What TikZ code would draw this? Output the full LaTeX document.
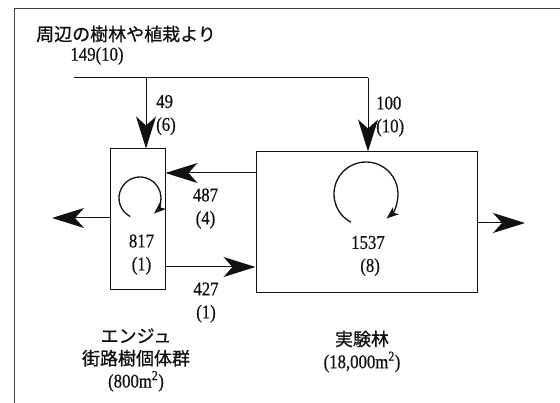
\documentclass[tikz,border=0pt]{standalone}
\usepackage{fontspec}
\setmainfont{Liberation Serif}[FakeStretch=0.86, FakeBold=0.6]
\newfontfamily\jp{Noto Sans CJK JP}[FakeBold=0.8]
\usetikzlibrary{arrows.meta, positioning, calc}
\definecolor{ink}{HTML}{111111}
\tikzset{
  pool/.style={rectangle, draw=ink, line width=1pt, inner sep=0pt},
  num/.style={font=\fontsize{19.5}{23}\selectfont, text=ink, align=center, inner sep=0pt},
  numl/.style={num, anchor=west, align=left},
  jlabel/.style={font=\jp\fontsize{18}{22.5}\selectfont, text=ink, align=center, inner sep=0pt},
  flow/.style={-{Stealth[length=32pt, width=20pt, inset=9pt]}, line width=1pt, draw=ink},
  cycle/.style={-{Stealth[length=12pt, width=9pt, inset=3pt]}, line width=1.3pt, draw=ink},
  frame/.style={line width=1pt, draw=ink!80},
}
\def\srcy{-78}

\begin{document}
\begin{tikzpicture}[x=1pt, y=1pt]
\useasboundingbox (0,0) rectangle (560,-403);

% Frame (cut at right and bottom)
\draw[frame] (14,-403) -- (14,-9) -- (560,-9);

% Compartments
\node[pool, minimum width=55pt, minimum height=141pt] (street) at (137.5,-219.5) {};
\node[pool, minimum width=221pt, minimum height=141pt] (forest) at (366.5,-222.5) {};

% Source from surrounding woods
\node[jlabel, anchor=west] (source) at (36,-34) {周辺の樹林や植栽より};
\node[num] (srcval) at (97,-56) {149(10)};
\coordinate (srcL) at (74,\srcy);
\coordinate (drop) at (146,\srcy);
\coordinate (srcR) at (368,\srcy);
\draw[line width=1pt, draw=ink] (srcL) -- (srcR);
\draw[flow] (drop) -- (drop |- street.north);
\draw[flow] (srcR) -- (srcR |- forest.north);
\node[numl] (in49) at (156,-115) {49\\(6)};
\node[numl] (in100) at (376,-116.5) {100\\(10)};

% Exchange between compartments
\coordinate (o487) at ([yshift=49.5pt]forest.west);
\coordinate (o427) at ([yshift=-47.5pt]street.east);
\draw[flow] (o487) -- (o487 -| street.east);
\draw[flow] (o427) -- (o427 -| forest.west);
\node[num] (v487) at (205.5,-208.5) {487\\(4)};
\node[num] (v427) at (206,-302.5) {427\\(1)};

% Outflows
\coordinate (outL) at (52,-218);
\coordinate (outR) at (525,-223);
\draw[flow] (outL -| street.west) -- (outL);
\draw[flow] (outR -| forest.east) -- (outR);

% Internal cycling
\coordinate (cL) at (140,-198);
\coordinate (cR) at (366,-194);
\draw[cycle] ($(cL)+(242:21)$) arc[start angle=242, end angle=-48, radius=21];
\draw[cycle] ($(cR)+(242:32)$) arc[start angle=242, end angle=-50, radius=32];
\node[num] (v817) at (141.5,-254.5) {817\\(1)};
\node[num] (v1537) at (368,-256) {1537\\\ (8)};

% Compartment names
\node[jlabel] (streetname) at (136,-360) {エンジュ\\街路樹個体群\\{\rmfamily\fontsize{19.5}{22}\selectfont(800m\textsuperscript{2})}};
\node[jlabel] (forestname) at (362,-351.5) {実験林\\{\rmfamily\fontsize{19.5}{22}\selectfont(18,000m\textsuperscript{2})}};

\end{tikzpicture}
\end{document}
